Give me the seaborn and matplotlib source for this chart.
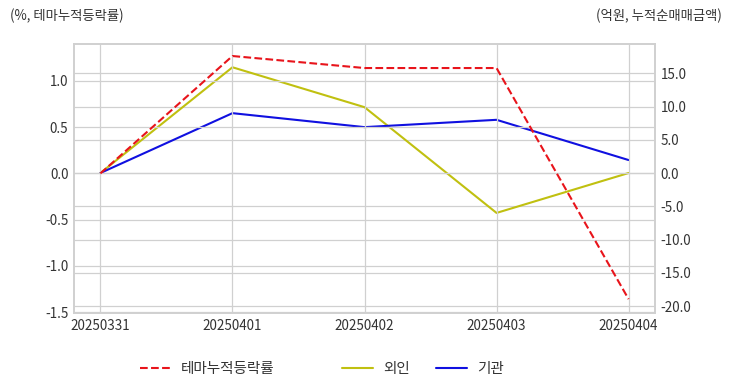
import matplotlib

matplotlib.use("Agg")

import matplotlib.pyplot as plt
import pandas as pd
import seaborn as sns
from matplotlib.lines import Line2D

sns.set_theme(style="whitegrid")
plt.rcParams["font.family"] = ["Noto Sans CJK KR", "DejaVu Sans"]
plt.rcParams["axes.unicode_minus"] = False

dates = ["20250331", "20250401", "20250402", "20250403", "20250404"]
theme_rate = [0.0, 1.27, 1.14, 1.14, -1.36]
foreign = [0.0, 15.9, 9.9, -6.0, 0.0]
institution = [0.0, 9.0, 6.9, 8.0, 1.95]

frame = pd.DataFrame({
    "date": dates,
    "theme": theme_rate,
    "foreign": foreign,
    "institution": institution,
})

fig = plt.figure(figsize=(7.32, 3.92), dpi=100)
ax = fig.add_axes([74 / 732, 1 - 313 / 392, 581 / 732, 269 / 392])
ax2 = ax.twinx()

red, yellow, blue = "#e8141b", "#c0c010", "#1010e0"
grid_color = "#d0d0d0"
sns.lineplot(data=frame, x="date", y="theme", ax=ax, color=red, linestyle="--", linewidth=1.5)
sns.lineplot(data=frame, x="date", y="foreign", ax=ax2, color=yellow, linewidth=1.5)
sns.lineplot(data=frame, x="date", y="institution", ax=ax2, color=blue, linewidth=1.5)

left_ticks = [-1.5, -1.0, -0.5, 0.0, 0.5, 1.0]
right_ticks = [-20, -15, -10, -5, 0, 5, 10, 15]
ax.set_xlim(-0.2, 4.2)
ax.set_ylim(-1.51, 1.40)
ax.set_yticks(left_ticks)
ax.set_yticklabels([f"{v:.1f}" for v in left_ticks])
ax2.set_ylim(-21.05, 19.4)
ax2.set_yticks(right_ticks)
ax2.set_yticklabels([f"{v:.1f}" for v in right_ticks])

for a in (ax, ax2):
    a.set_xlabel("")
    a.set_ylabel("")
    a.tick_params(axis="both", labelsize=9.7, colors="#333333", length=0, pad=4)
    a.grid(True, color=grid_color, linewidth=0.9)
    for spine in a.spines.values():
        spine.set_color(grid_color)
        spine.set_linewidth(1.2)
ax2.grid(axis="x", visible=False)
ax.set_zorder(ax2.get_zorder() + 1)
ax.patch.set_visible(False)

fig.text(10 / 732, 1 - 16 / 392, "(%, 테마누적등락률)", fontsize=9.6, color="#333333", va="center")
fig.text(722 / 732, 1 - 16 / 392, "(억원, 누적순매매금액)", fontsize=9.6, color="#333333", va="center", ha="right")

# legend entries placed individually to get the uneven spacing
entries = [
    (Line2D([], [], color=red, linestyle="--", linewidth=1.5), "테마누적등락률", 140),
    (Line2D([], [], color=yellow, linewidth=1.5), "외인", 342),
    (Line2D([], [], color=blue, linewidth=1.5), "기관", 436),
]
for handle, label, x in entries:
    fig.legend([handle], [label], loc="center left", bbox_to_anchor=(x / 732, 1 - 369 / 392),
               frameon=False, fontsize=10.5, handlelength=2.1, handletextpad=0.7,
               borderpad=0, borderaxespad=0, labelcolor="#333333")

fig.savefig("out.png", dpi=100)
